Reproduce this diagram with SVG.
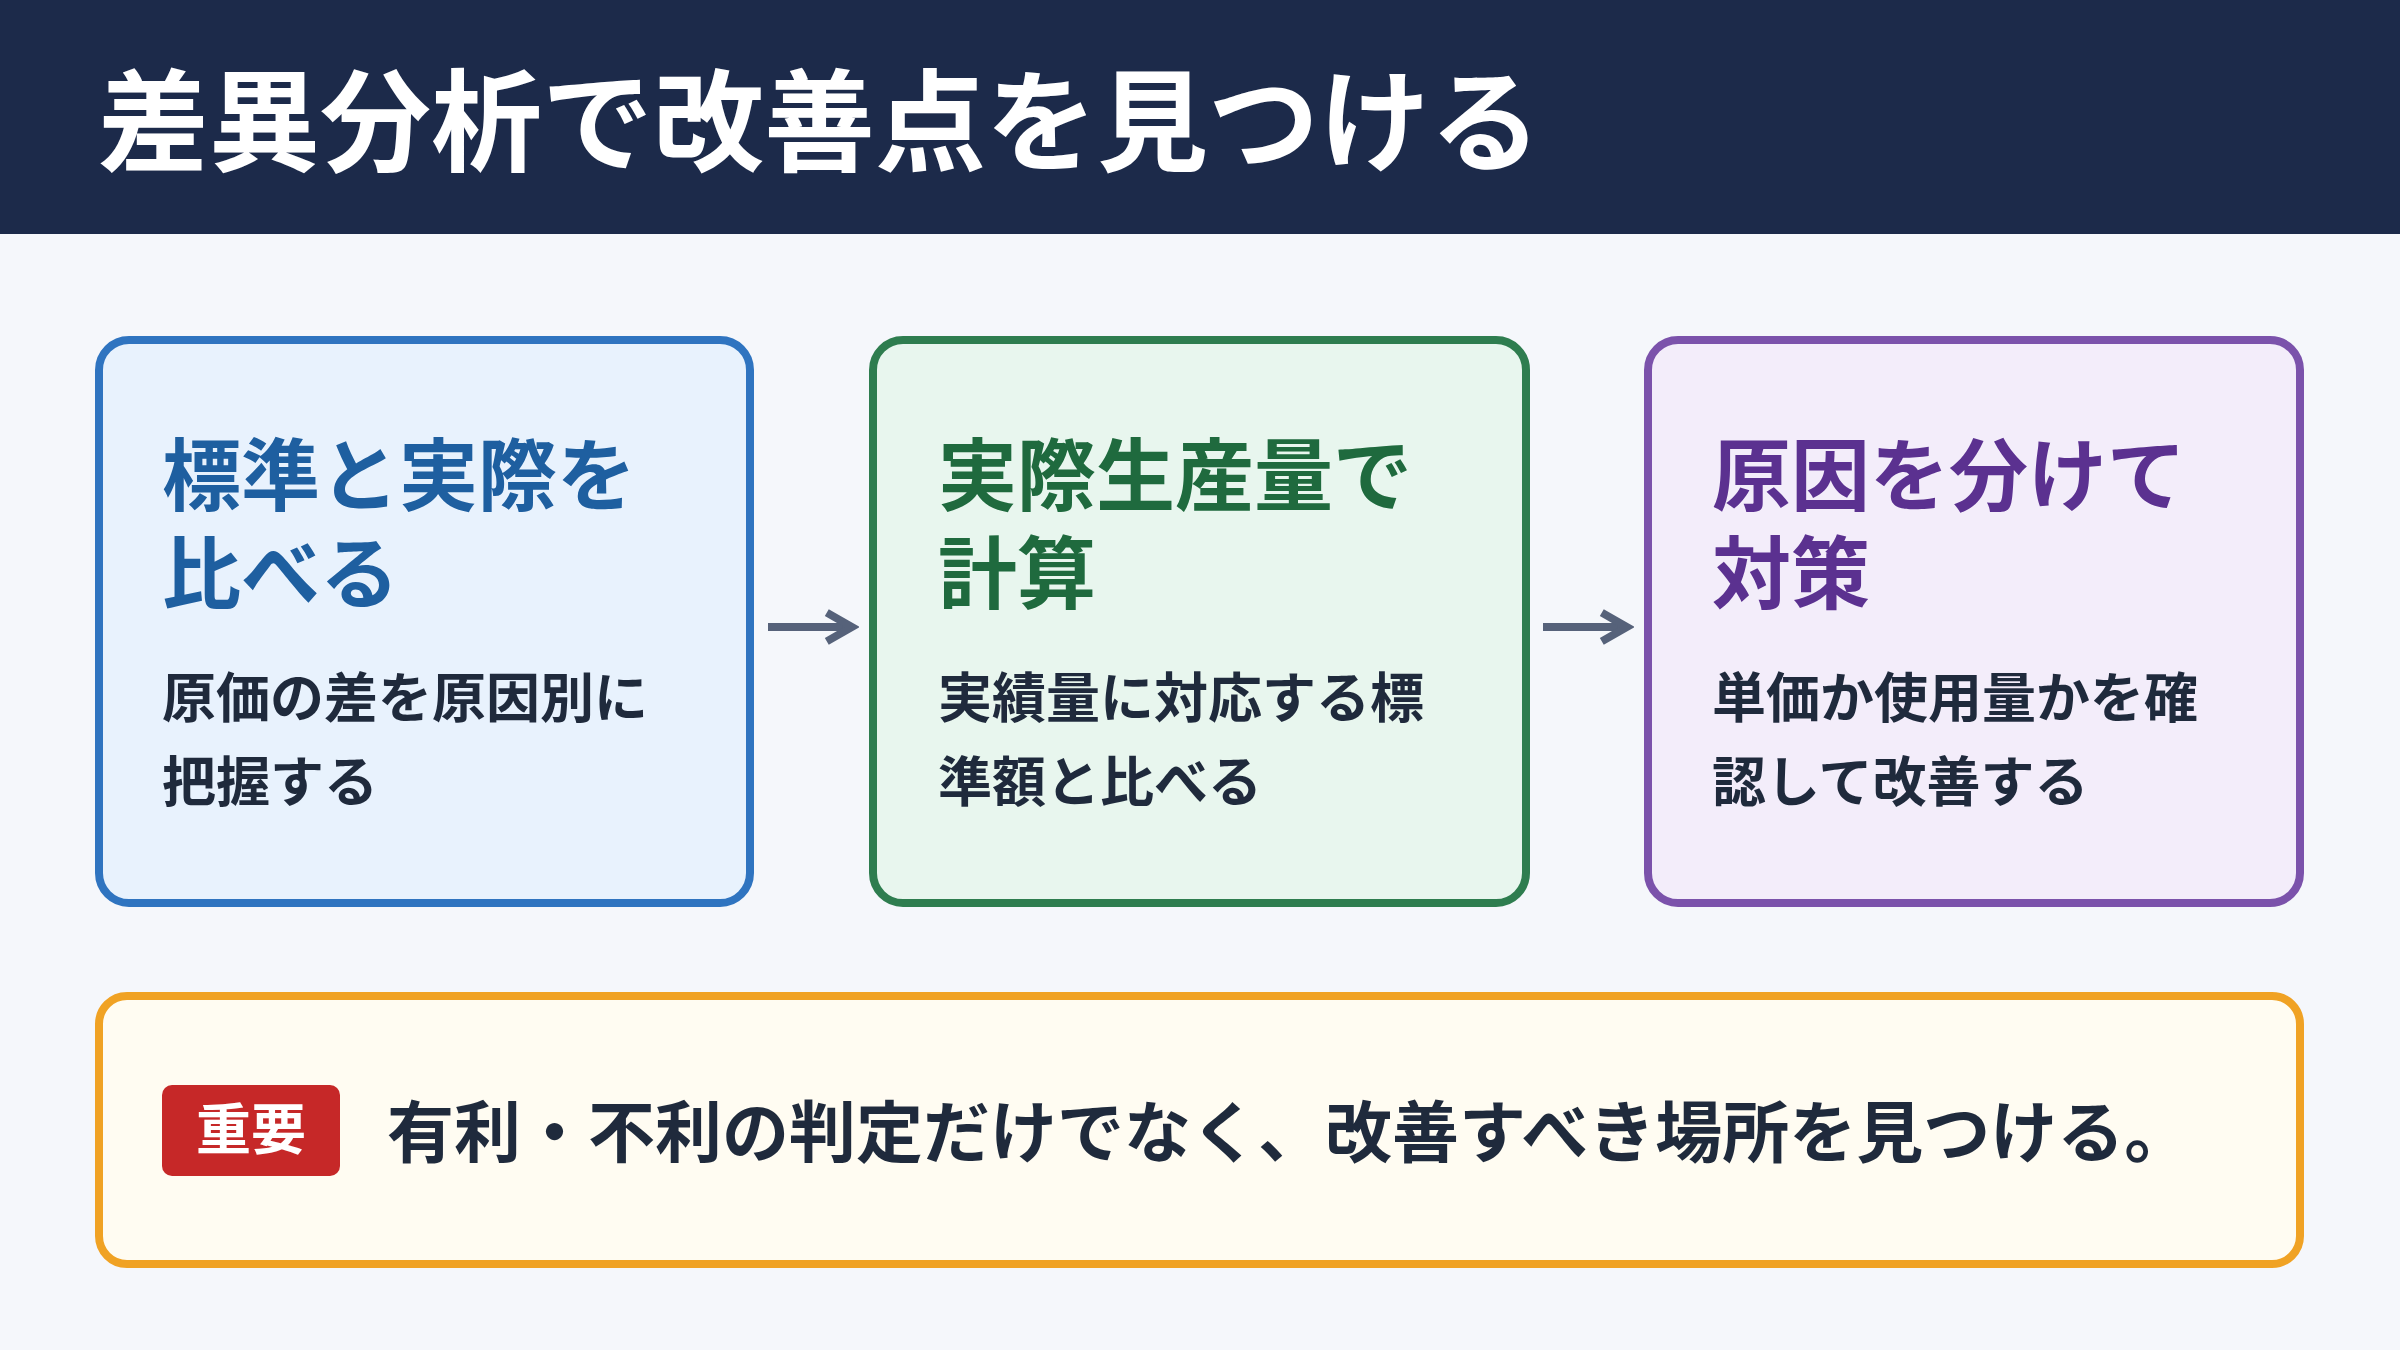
<svg xmlns="http://www.w3.org/2000/svg" width="2400" height="1350" viewBox="0 0 2400 1350">
<style>
text{font-family:"Noto Sans CJK JP","Noto Sans",sans-serif;font-weight:700}
.h{font-size:79px}
.b{font-size:54px;fill:#1f2a3c}
.card{stroke-width:8}
</style>
<defs>
<marker id="ah" viewBox="0 0 10 10" refX="8" refY="5" markerWidth="4.5" markerHeight="4.5" orient="auto"><path d="M1 1L8 5L1 9" fill="none" stroke="#56627a" stroke-width="2.2"/></marker>
</defs>
<rect width="2400" height="1350" fill="#f5f7fb"/>
<rect width="2400" height="234" fill="#1c2a4a"/>
<text x="98" y="163" font-size="111" fill="#fff">差異分析で改善点を見つける</text>
<g id="n1">
<rect class="card" x="99" y="340" width="651" height="563" rx="30" fill="#e8f2fd" stroke="#2f74c0"/>
<text class="h" x="162" y="505" fill="#1e5fa0">標準と実際を</text>
<text class="h" x="162" y="603" fill="#1e5fa0">比べる</text>
<text class="b" x="162" y="718">原価の差を原因別に</text>
<text class="b" x="162" y="802">把握する</text>
</g>
<g id="n2">
<rect class="card" x="873" y="340" width="653" height="563" rx="30" fill="#e8f6ee" stroke="#2e7d4f"/>
<text class="h" x="938" y="505" fill="#1f6a3e">実際生産量で</text>
<text class="h" x="938" y="603" fill="#1f6a3e">計算</text>
<text class="b" x="938" y="718">実績量に対応する標</text>
<text class="b" x="938" y="802">準額と比べる</text>
</g>
<g id="n3">
<rect class="card" x="1648" y="340" width="652" height="563" rx="30" fill="#f3edfa" stroke="#7b52ab"/>
<text class="h" x="1712" y="505" fill="#5b3190">原因を分けて</text>
<text class="h" x="1712" y="603" fill="#5b3190">対策</text>
<text class="b" x="1712" y="718">単価か使用量かを確</text>
<text class="b" x="1712" y="802">認して改善する</text>
</g>
<g id="connectors" stroke="#56627a" stroke-width="8" fill="none" marker-end="url(#ah)">
<line x1="768" y1="627" x2="852" y2="627"/>
<line x1="1543" y1="627" x2="1627" y2="627"/>
</g>
<g id="note">
<rect x="99" y="996" width="2201" height="268" rx="28" fill="#fffcf2" stroke="#f0a224" stroke-width="8"/>
<rect x="162" y="1085" width="178" height="91" rx="10" fill="#c62828"/>
<text x="251" y="1149" font-size="55" fill="#fff" text-anchor="middle">重要</text>
<text x="387" y="1157" font-size="67" fill="#1f2a3c">有利・不利の判定だけでなく、改善すべき場所を見つける。</text>
</g>
</svg>
